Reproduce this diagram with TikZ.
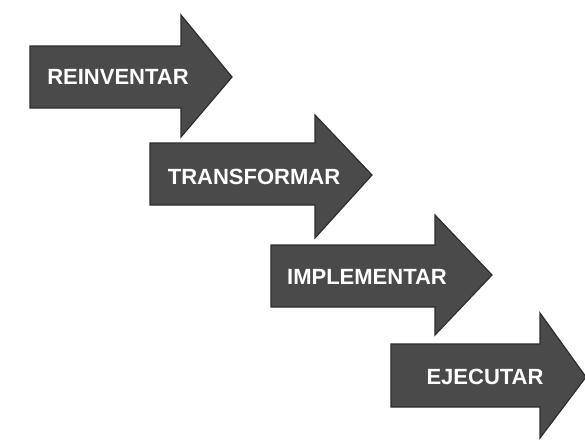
\documentclass[tikz,border=0pt]{standalone}
\usepackage{fontspec}
\setmainfont{Liberation Sans}
\definecolor{arrowfill}{HTML}{4A4A4A}
\definecolor{arrowedge}{HTML}{2E2E2E}
\tikzset{
  bigarrow/.style={fill=arrowfill, draw=arrowedge, line width=1.2pt, line join=miter},
  arrowtext/.style={text=white, font=\bfseries\fontsize{22}{22}\selectfont, inner sep=0pt, anchor=center}
}
\begin{document}
\begin{tikzpicture}[x=1pt,y=-1pt]
\useasboundingbox (0,0) rectangle (585,442);
\fill[white] (0,0) rectangle (585,442);
% arrow 1
\draw[bigarrow] (30,46) -- (181,46) -- (181,15) -- (232,77) -- (181,137) -- (181,108) -- (30,108) -- cycle;
\node[arrowtext] (reinventar) at (118,77) {REINVENTAR};
% arrow 2
\draw[bigarrow] (150,143) -- (315,143) -- (315,115) -- (372,175) -- (315,238) -- (315,205) -- (150,205) -- cycle;
\node[arrowtext] (transformar) at (254,177) {TRANSFORMAR};
% arrow 3
\draw[bigarrow] (271,245) -- (435,245) -- (435,215) -- (492,275) -- (435,335) -- (435,307) -- (271,307) -- cycle;
\node[arrowtext] (implementar) at (367,277) {IMPLEMENTAR};
% arrow 4
\draw[bigarrow] (391,344) -- (540,344) -- (540,313) -- (586,377) -- (540,438) -- (540,407) -- (391,407) -- cycle;
\node[arrowtext] (ejecutar) at (485,377) {EJECUTAR};
\end{tikzpicture}
\end{document}
